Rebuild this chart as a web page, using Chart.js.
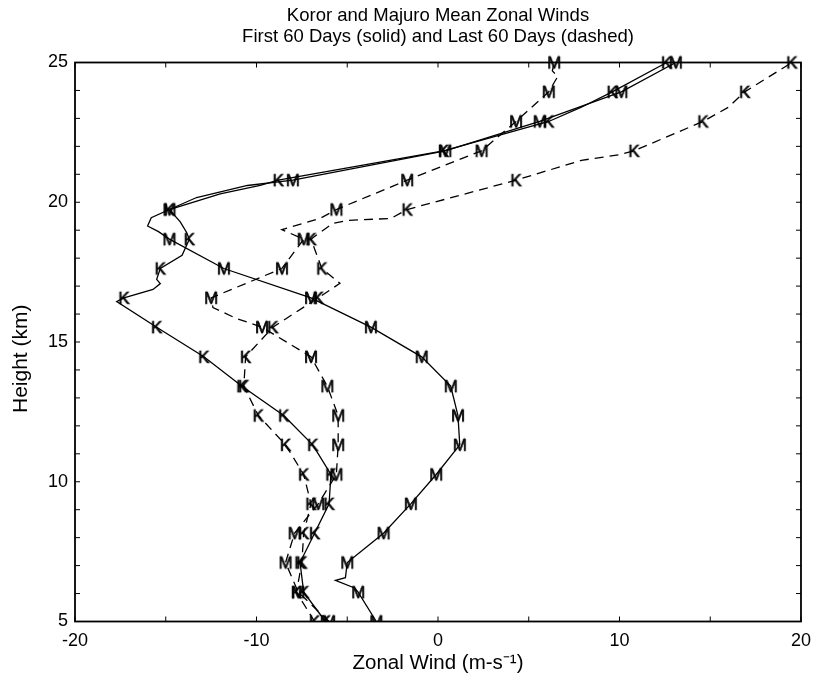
<!DOCTYPE html>
<html>
<head>
<meta charset="utf-8">
<title>Koror and Majuro Mean Zonal Winds</title>
<script src="https://cdn.jsdelivr.net/npm/chart.js@4.4.1/dist/chart.umd.min.js"></script>
<style>
  html, body { margin: 0; padding: 0; background: #fff; }
</style>
</head>
<body>
<canvas id="chartWinds" width="820" height="678"></canvas>
<script>
/* Koror / Majuro mean zonal wind profiles
 * solid = first 60 days, dashed = last 60 days
 */

// heights (km) where the K / M letters sit
const markerLevels = [5.00, 6.05, 7.11, 8.16, 9.21, 10.26, 11.32, 12.37, 13.42, 14.47,
    15.53, 16.58, 17.63, 18.68, 19.74, 20.79, 21.84, 22.89, 23.95, 25.00];

// Koror, first 60 days (solid)
const korFirstHeight = [5.00, 6.05, 7.11, 8.16, 9.21, 10.26, 11.32, 12.37, 13.42, 14.47,
    15.53, 16.45, 16.58, 16.88, 17.09, 17.24, 17.63, 18.10, 18.68, 18.92,
    19.30, 19.74, 20.30, 20.60, 20.79, 21.84, 22.89, 23.40, 23.95, 25.00];
const korFirstWind = [-6.2, -7.4, -7.6, -6.8, -6.0, -5.9, -6.9, -8.5, -10.8, -12.9,
    -15.5, -17.7, -17.3, -15.7, -15.3, -15.5, -15.3, -14.1, -13.7, -13.85,
    -14.2, -14.8, -12.0, -9.8, -8.8, 0.3, 6.1, 7.9, 9.6, 12.6];

// Majuro, first 60 days (solid)
const majFirstHeight = [5.00, 6.05, 6.20, 6.47, 6.57, 7.11, 8.16, 9.21, 10.26, 11.32,
    12.37, 13.42, 14.47, 15.53, 16.58, 17.63, 18.68, 18.95, 19.15, 19.45,
    19.74, 20.17, 20.60, 20.79, 21.84, 22.89, 23.95, 25.00];
const majFirstWind = [-3.4, -4.4, -4.6, -5.65, -5.1, -5.0, -3.0, -1.5, -0.1, 1.2,
    1.1, 0.7, -0.9, -3.7, -7.0, -11.8, -14.8, -15.4, -16.0, -15.8,
    -14.8, -13.3, -10.5, -8.0, 0.4, 5.6, 10.1, 13.1];

// Koror, last 60 days (dashed)
const korLastHeight = [5.00, 6.05, 7.11, 8.16, 9.21, 10.26, 11.32, 12.37, 13.42, 14.47,
    15.53, 16.58, 17.10, 17.63, 18.68, 19.24, 19.35, 19.42, 19.74, 20.79,
    21.50, 21.70, 21.84, 22.89, 23.40, 23.95, 25.00];
const korLastWind = [-6.8, -7.8, -7.5, -7.4, -7.0, -7.4, -8.4, -9.9, -10.7, -10.6,
    -9.1, -6.6, -5.4, -6.4, -7.0, -5.8, -5.0, -2.6, -1.7, 4.3,
    7.9, 10.0, 10.8, 14.6, 16.0, 16.9, 19.5];

// Majuro, last 60 days (dashed)
const majLastHeight = [5.00, 6.05, 7.11, 8.16, 9.21, 10.26, 11.32, 12.37, 13.42, 14.47,
    15.53, 15.84, 16.23, 16.58, 17.63, 18.68, 19.02, 19.42, 19.74, 20.79,
    21.84, 22.89, 23.95, 24.50, 24.70, 25.00];
const majLastWind = [-6.0, -7.7, -8.4, -7.9, -6.6, -5.6, -5.5, -5.5, -6.1, -7.0,
    -9.7, -11.1, -12.4, -12.5, -8.6, -7.4, -8.6, -6.5, -5.6, -1.7,
    2.4, 4.3, 6.1, 6.6, 6.3, 6.4];

const xTicks = [-20, -10, 0, 10, 20];
const yTicks = [5, 10, 15, 20, 25];

const FONT = '"Liberation Sans", Arial, Helvetica, sans-serif';
const INK = '#000';

/* ------------------------------
 * K / M letters used as point styles
 * ------------------------------ */
function makeLetter(ch) {
    const c = document.createElement('canvas');
    const g = c.getContext('2d');
    const font = '17px ' + FONT;
    g.font = font;
    const w = Math.ceil(g.measureText(ch).width) + 3;
    c.width = w;
    c.height = 20;
    g.font = font;
    g.fillStyle = '#000';
    g.strokeStyle = '#000';
    g.lineWidth = 0.7;
    g.textAlign = 'center';
    g.textBaseline = 'alphabetic';
    g.fillText(ch, w / 2, 10 + 6.1);
    g.strokeText(ch, w / 2, 10 + 6.1);
    return c;
}
const letterK = makeLetter('K');
const letterM = makeLetter('M');

const toPoints = (hs, us) => hs.map((h, i) => ({ x: us[i], y: h }));

function profile(label, hs, us, letter, dashed) {
    return {
        label,
        data: toPoints(hs, us),
        showLine: true,
        borderColor: INK,
        borderWidth: 1.3,
        borderDash: dashed ? [9, 6] : [],
        tension: 0,
        pointStyle: letter,
        pointRadius: ctx => (ctx.raw && markerLevels.includes(ctx.raw.y) ? 6 : 0),
        pointHoverRadius: 0,
        clip: { left: 12, top: 12, right: 12, bottom: 0 },
    };
}

/* ------------------------------
 * frame, inward ticks, y title
 * ------------------------------ */
const frameTicks = {
    id: 'frameTicks',
    beforeDatasetsDraw(chart) {
        const { ctx, chartArea: a, scales: { x, y } } = chart;
        ctx.save();
        ctx.strokeStyle = INK;
        ctx.lineWidth = 1;
        ctx.beginPath();
        for (let v = y.min; v <= y.max; v += 1) {
            const py = y.getPixelForValue(v);
            ctx.moveTo(a.left, py); ctx.lineTo(a.left + 5, py);
            ctx.moveTo(a.right, py); ctx.lineTo(a.right - 5, py);
        }
        for (let v = x.min; v <= x.max; v += 5) {
            const px = x.getPixelForValue(v);
            ctx.moveTo(px, a.top); ctx.lineTo(px, a.top + 5);
            ctx.moveTo(px, a.bottom); ctx.lineTo(px, a.bottom - 5);
        }
        ctx.stroke();
        ctx.lineWidth = 1.8;
        ctx.strokeRect(a.left, a.top, a.right - a.left, a.bottom - a.top);

        // y-axis title sits a bit below the middle in the original
        ctx.translate(21, y.getPixelForValue(14.4));
        ctx.rotate(-Math.PI / 2);
        ctx.font = '21px ' + FONT;
        ctx.fillStyle = INK;
        ctx.textAlign = 'center';
        ctx.textBaseline = 'middle';
        ctx.fillText('Height (km)', 0, 0);
        ctx.restore();
    }
};

new Chart(document.getElementById('chartWinds'), {
    type: 'scatter',
    data: {
        datasets: [
            profile('Koror first 60 days', korFirstHeight, korFirstWind, letterK, false),
            profile('Majuro first 60 days', majFirstHeight, majFirstWind, letterM, false),
            profile('Koror last 60 days', korLastHeight, korLastWind, letterK, true),
            profile('Majuro last 60 days', majLastHeight, majLastWind, letterM, true),
        ],
    },
    options: {
        responsive: false,
        animation: false,
        events: [],
        layout: { padding: { top: 4, right: 16, bottom: 0, left: 0 } },
        plugins: {
            legend: { display: false },
            tooltip: { enabled: false },
            title: {
                display: true,
                fullSize: false,
                text: ['Koror and Majuro Mean Zonal Winds',
                       'First 60 Days (solid) and Last 60 Days (dashed)'],
                color: INK,
                font: { family: FONT, size: 18.5, weight: 'normal', lineHeight: 1.1 },
                padding: { top: 2, bottom: 15.8 },
            },
        },
        scales: {
            x: {
                type: 'linear',
                min: -20,
                max: 20,
                afterFit: s => { s.height = 56.5; },
                afterBuildTicks: s => { s.ticks = xTicks.map(v => ({ value: v })); },
                grid: { display: false, drawTicks: false },
                border: { display: false },
                ticks: {
                    color: INK,
                    padding: 9,
                    maxRotation: 0,
                    font: { family: FONT, size: 18 },
                },
                title: {
                    display: true,
                    text: 'Zonal Wind (m-s\u207B\u00B9)',
                    color: INK,
                    font: { family: FONT, size: 20.5, lineHeight: 1.1 },
                    padding: { top: 0, bottom: 3 },
                },
            },
            y: {
                type: 'linear',
                min: 5,
                max: 25,
                afterFit: s => { s.width = 75; },
                afterBuildTicks: s => { s.ticks = yTicks.map(v => ({ value: v })); },
                grid: { display: false, drawTicks: false },
                border: { display: false },
                ticks: {
                    color: INK,
                    padding: 7,
                    font: { family: FONT, size: 18 },
                },
            },
        },
    },
    plugins: [frameTicks],
});
</script>
</body>
</html>
